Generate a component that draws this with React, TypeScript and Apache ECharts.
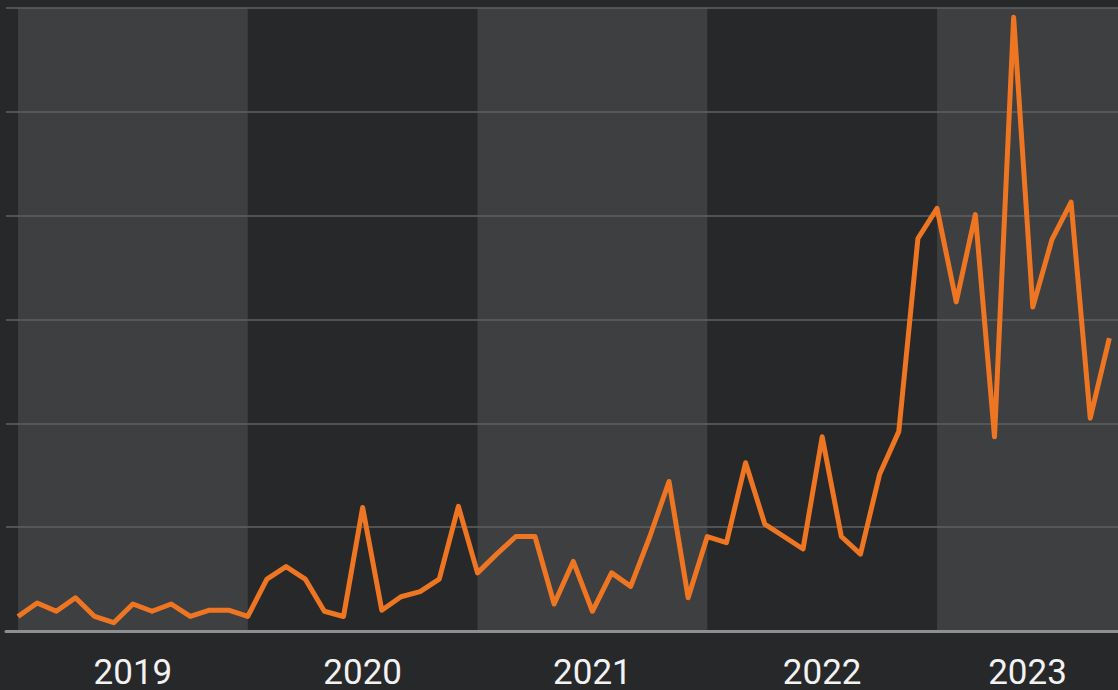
import React, { useEffect, useRef } from "react";
import * as echarts from "echarts";

// Monthly values, Jan 2019 .. Oct 2023 (index 0 = Jan 2019)
const values2019 = [1.4, 2.7, 1.9, 3.2, 1.4, 0.8, 2.6, 1.9, 2.6, 1.4, 2.0, 2.0];
const values2020 = [1.4, 5.0, 6.2, 5.0, 1.9, 1.4, 11.9, 2.0, 3.3, 3.8, 5.0, 12.0];
const values2021 = [5.6, 7.4, 9.1, 9.1, 2.6, 6.7, 1.9, 5.6, 4.3, 9.1, 14.4, 3.2];
const values2022 = [9.1, 8.5, 16.2, 10.3, 9.1, 7.9, 18.7, 9.1, 7.4, 15.1, 19.2, 37.8];
const values2023 = [40.7, 31.7, 40.1, 18.7, 59.1, 31.2, 37.7, 41.3, 20.5, 28.2];

const years = ["2019", "2020", "2021", "2022", "2023"];

const Y_MIN = 0;
const Y_MAX = 60;
const Y_INTERVAL = 10;

// visible x range in month-index units
const X_MIN = -0.627;
const X_MAX = 57.45;

export default function App() {
  const ref = useRef<HTMLDivElement>(null);

  useEffect(() => {
    if (!ref.current) return;
    const chart = echarts.init(ref.current, undefined, { renderer: "svg" });

    const all = [...values2019, ...values2020, ...values2021, ...values2022, ...values2023];
    const lineData = all.map((v, i) => [i, v]);

    // light bands for alternate years
    const bands: any[] = [];
    years.forEach((_, yi) => {
      if (yi % 2 === 0) {
        bands.push([{ xAxis: yi * 12 }, { xAxis: Math.min((yi + 1) * 12, X_MAX) }]);
      }
    });

    // year label positions: center of each year's visible span
    const labelPos = years.map((_, yi) => {
      const a = Math.max(yi * 12, X_MIN);
      const b = Math.min((yi + 1) * 12, X_MAX);
      return (a + b) / 2;
    });

    chart.setOption({
      animation: false,
      backgroundColor: "#27282a",
      grid: { left: 6, right: 0, top: 8, bottom: 58, containLabel: false },
      xAxis: {
        type: "value",
        min: X_MIN,
        max: X_MAX,
        z: 5,
        axisLine: { show: true, onZero: false, lineStyle: { color: "#8e8f91", width: 3 } },
        axisTick: { show: false },
        splitLine: { show: false },
        axisLabel: {
          show: true,
          customValues: labelPos,
          hideOverlap: false,
          showMinLabel: true,
          showMaxLabel: true,
          color: "#f2f2f2",
          fontSize: 35,
          fontFamily: "Roboto, 'Liberation Sans', sans-serif",
          margin: 24,
          formatter: (val: number) => {
            const idx = labelPos.findIndex((p) => Math.abs(p - val) < 0.01);
            return idx >= 0 ? years[idx] : "";
          },
        },
      },
      yAxis: {
        type: "value",
        min: Y_MIN,
        max: Y_MAX,
        interval: Y_INTERVAL,
        z: 5,
        axisLine: { show: false },
        axisTick: { show: false },
        axisLabel: { show: false },
        splitLine: { show: true, lineStyle: { color: "#5f6062", width: 1.5 } },
      },
      series: [
        {
          type: "line",
          z: 0,
          data: [],
          silent: true,
          markArea: {
            silent: true,
            itemStyle: { color: "#3e3f41" },
            data: bands,
          },
        },
        {
          type: "line",
          z: 10,
          data: lineData,
          showSymbol: false,
          symbol: "none",
          lineStyle: { color: "#ee7623", width: 5, join: "round" },
        },
      ],
    });

    return () => chart.dispose();
  }, []);

  return (
    <div
      ref={ref}
      style={{ position: "fixed", left: 0, top: 0, width: 1118, height: 690 }}
    />
  );
}
